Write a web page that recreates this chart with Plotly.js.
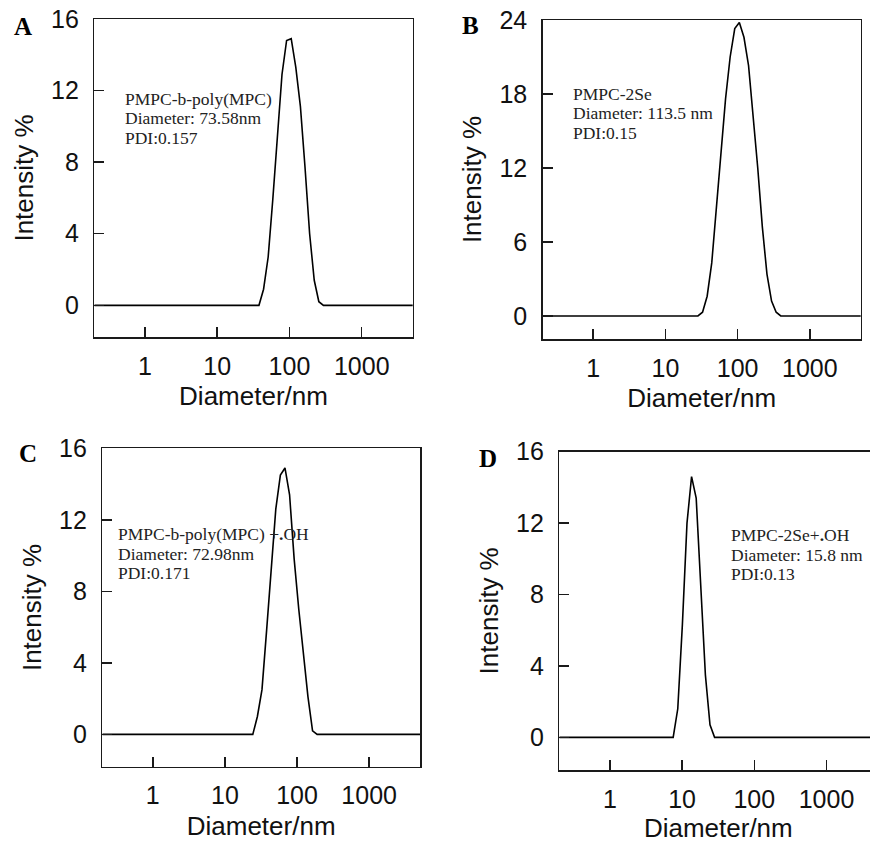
<!DOCTYPE html>
<html>
<head>
<meta charset="utf-8">
<script src="https://cdn.plot.ly/plotly-3.0.1.min.js"></script>
<style>
html,body{margin:0;padding:0;overflow:hidden;background:#fff;}
#chart{width:878px;height:843px;}
</style>
</head>
<body>
<div id="chart"></div>
<script>
// ---- data (diameter in nm, intensity in %) ----
const diamA = [0.2, 37.84, 43.82, 50.75, 58.77, 68.06, 78.82, 91.28, 105.7, 122.4, 141.8, 164.2, 190.1, 220.2, 255.0, 295.3, 10000];
const intA  = [0,   0,     0.9,   2.7,   5.9,   9.2,   12.9,  14.8,  14.9,  13.3,  11.1,  7.7,   4.0,   1.4,   0.2,   0,     0];

const diamB = [0.2, 28.21, 32.67, 37.84, 43.82, 50.75, 58.77, 68.06, 78.82, 91.28, 105.7, 122.4, 141.8, 164.2, 190.1, 220.2, 255.0, 295.3, 342.0, 396.1, 10000];
const intB  = [0,   0,     0.3,   1.6,   4.3,   8.6,   13.2,  17.6,  21.0,  23.3,  23.8,  22.6,  20.3,  16.4,  12.0,  7.2,   3.4,   1.2,   0.3,   0,     0];

const diamC = [0.2, 24.36, 28.21, 32.67, 37.84, 43.82, 50.75, 58.77, 68.06, 78.82, 91.28, 105.7, 122.4, 141.8, 164.2, 190.1, 10000];
const intC  = [0,   0,     1.0,   2.5,   5.8,   9.0,   12.6,  14.5,  14.9,  13.4,  9.8,   7.0,   4.6,   2.1,   0.2,   0,     0];

const diamD = [0.2, 7.531, 8.721, 10.10, 11.70, 13.54, 15.69, 18.17, 21.04, 24.36, 28.21, 10000];
const intD  = [0,   0,     1.6,   6.3,   12.0,  14.6,  13.4,  8.8,   3.5,   0.7,   0,     0];

const xTickVals = [1, 10, 100, 1000];
const xTickText = ['1', '10', '100', '1000'];
const yTicksA = [0, 4, 8, 12, 16];
const yTicksB = [0, 6, 12, 18, 24];
const yTicksC = [0, 4, 8, 12, 16];
const yTicksD = [0, 4, 8, 12, 16];

const panelLetters = ['A', 'B', 'C', 'D'];
const labelA = ['PMPC-b-poly(MPC)', 'Diameter: 73.58nm', 'PDI:0.157'];
const labelB = ['PMPC-2Se', 'Diameter: 113.5 nm', 'PDI:0.15'];
const labelC = ['PMPC-b-poly(MPC) +<b>.</b>OH', 'Diameter: 72.98nm', 'PDI:0.171'];
const labelD = ['PMPC-2Se+<b>.</b>OH', 'Diameter: 15.8 nm', 'PDI:0.13'];

const xTitle = 'Diameter/nm';
const yTitle = 'Intensity %';

// ---- layout geometry (pixels) ----
const W = 878, H = 843;
const fx = p => p / W;
const fy = p => 1 - p / H;

const panels = [
  {x: diamA, y: intA, yt: yTicksA, lab: labelA, box: [94.3, 412.7, 19, 337],  yr: [-1.77, 16],
   letterPos: [23, 26], labPos: [122.7, 99]},
  {x: diamB, y: intB, yt: yTicksB, lab: labelB, box: [542.7, 860.7, 20, 339], yr: [-1.87, 24],
   letterPos: [470, 25], labPos: [571, 93.5]},
  {x: diamC, y: intC, yt: yTicksC, lab: labelC, box: [102.3, 420, 448.3, 766.7], yr: [-1.81, 16],
   letterPos: [27.5, 453.5], labPos: [116, 534]},
  {x: diamD, y: intD, yt: yTicksD, lab: labelD, box: [559.3, 877.4, 451.7, 770], yr: [-1.83, 16],
   letterPos: [487.5, 458], labPos: [729, 535]}
];

const axisColor = '#1a1a1a';
const sans = 'Liberation Sans, Arial, sans-serif';
const serif = 'Liberation Serif, Times New Roman, serif';

const traces = [];
const layout = {
  width: W, height: H,
  margin: {l: 0, r: 0, t: 0, b: 0},
  paper_bgcolor: '#fff', plot_bgcolor: '#fff',
  showlegend: false,
  annotations: []
};

panels.forEach((p, i) => {
  const n = i + 1;
  const xa = n === 1 ? 'xaxis' : 'xaxis' + n;
  const ya = n === 1 ? 'yaxis' : 'yaxis' + n;
  traces.push({
    x: p.x, y: p.y, type: 'scatter', mode: 'lines',
    xaxis: 'x' + (n === 1 ? '' : n), yaxis: 'y' + (n === 1 ? '' : n),
    line: {color: '#000', width: 1.6}, hoverinfo: 'skip'
  });
  layout[xa] = {
    type: 'log', range: [-0.70, 3.705],
    domain: [fx(p.box[0]), fx(p.box[1])],
    anchor: 'y' + (n === 1 ? '' : n),
    tickmode: 'array', tickvals: xTickVals, ticktext: xTickText,
    ticks: 'inside', ticklen: 10, tickwidth: 1.5, tickcolor: axisColor,
    showline: true, linewidth: 1.5, linecolor: axisColor, mirror: true,
    showgrid: false, zeroline: false,
    tickfont: {family: sans, size: 25, color: '#111'},
    ticklabelstandoff: 6,
    title: {text: xTitle, font: {family: sans, size: 26, color: '#111'}, standoff: 8}
  };
  layout[ya] = {
    range: p.yr,
    domain: [fy(p.box[3]), fy(p.box[2])],
    anchor: 'x' + (n === 1 ? '' : n),
    tickmode: 'array', tickvals: p.yt,
    ticks: 'inside', ticklen: 10, tickwidth: 1.5, tickcolor: axisColor,
    showline: true, linewidth: 1.5, linecolor: axisColor, mirror: true,
    showgrid: false, zeroline: false,
    tickfont: {family: sans, size: 25, color: '#111'},
    ticklabelstandoff: 9,
    title: {text: yTitle, font: {family: sans, size: 26, color: '#111'}, standoff: 10}
  };
  layout.annotations.push({
    xref: 'paper', yref: 'paper', x: fx(p.letterPos[0]), y: fy(p.letterPos[1]),
    xanchor: 'center', yanchor: 'middle', showarrow: false,
    text: '<b>' + panelLetters[i] + '</b>',
    font: {family: serif, size: 25, color: '#000'}
  });
  p.lab.forEach((t, k) => {
    layout.annotations.push({
      xref: 'paper', yref: 'paper', x: fx(p.labPos[0]), y: fy(p.labPos[1] + k * 19.5),
      xanchor: 'left', yanchor: 'middle', showarrow: false,
      text: t,
      font: {family: serif, size: 17.5, color: '#222'}
    });
  });
});

Plotly.newPlot('chart', traces, layout, {staticPlot: true, displayModeBar: false});
</script>
</body>
</html>
